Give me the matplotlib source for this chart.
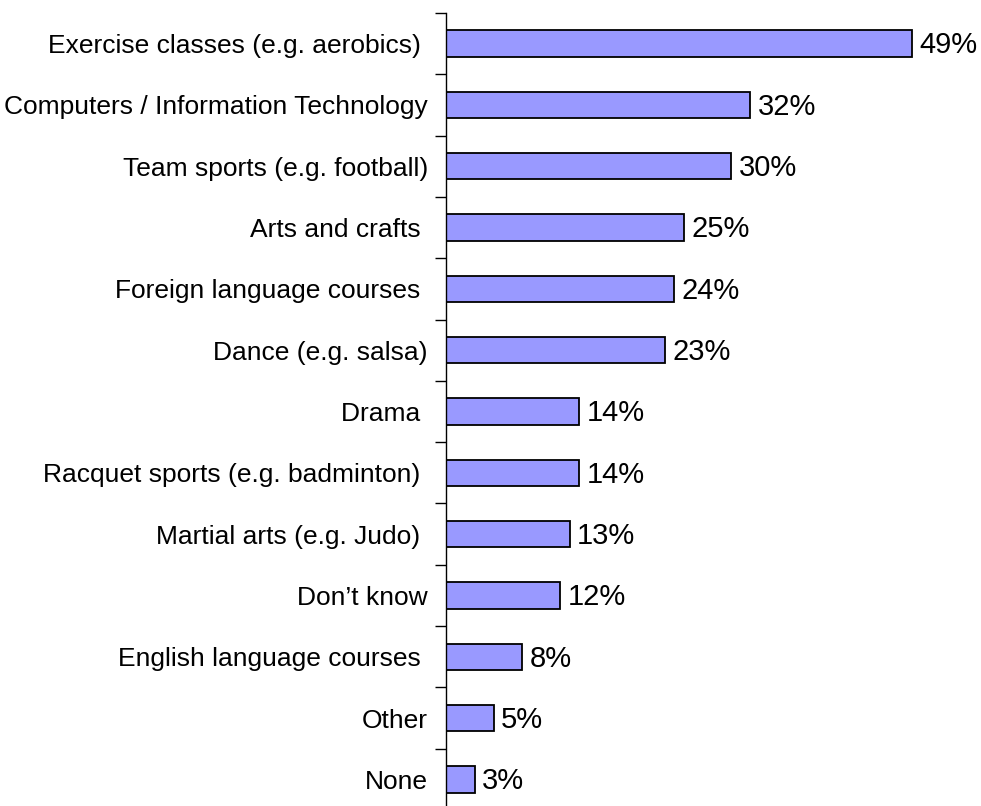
import matplotlib
matplotlib.use("Agg")
import matplotlib.pyplot as plt
import numpy as np

categories = ["Exercise classes (e.g. aerobics) ", "Computers / Information Technology",
              "Team sports (e.g. football)", "Arts and crafts ", "Foreign language courses ",
              "Dance (e.g. salsa)", "Drama ", "Racquet sports (e.g. badminton) ",
              "Martial arts (e.g. Judo) ", "Don\u2019t know", "English language courses ",
              "Other", "None"]
values = [49, 32, 30, 25, 24, 23, 14, 14, 13, 12, 8, 5, 3]

plt.rcParams['font.family'] = ['Liberation Sans', 'DejaVu Sans']

fig = plt.figure(figsize=(9.81, 8.06), dpi=100, facecolor='white')
ax = fig.add_axes([446/981, -4/806, 535/981, (810-13)/806])

y = np.arange(len(categories))
ax.barh(y, values, height=0.43, color='#9999FF', edgecolor='black', linewidth=1.3)
for yi, v in zip(y, values):
    ax.text(v + 0.8, yi + 0.03, f"{v}%", va='center', ha='left', fontsize=21)

ax.set_xlim(0, 56.3)
ax.set_ylim(len(categories) - 0.5, -0.5)
ax.set_yticks(y)
ax.set_yticklabels(categories, fontsize=19)
ax.set_yticks(np.arange(-0.5, len(categories), 1), minor=True)
ax.tick_params(axis='y', which='major', length=0, pad=13)
ax.tick_params(axis='y', which='minor', length=8, width=1, direction='out')
ax.set_xticks([])
for s in ['top', 'right', 'bottom']:
    ax.spines[s].set_visible(False)
ax.spines['left'].set_linewidth(1)

fig.savefig("out.png", dpi=100, facecolor='white')
